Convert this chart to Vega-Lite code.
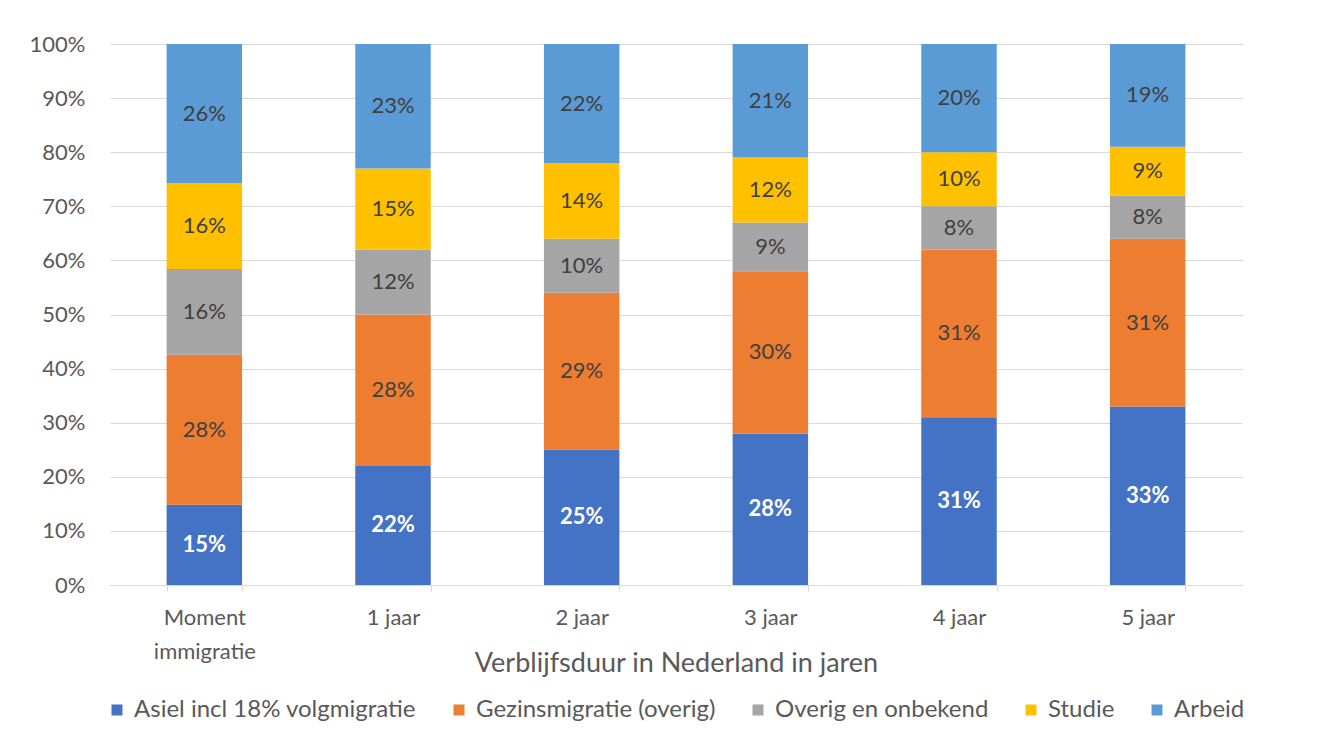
{
  "$schema": "https://vega.github.io/schema/vega-lite/v6.json",
  "width": 1132,
  "height": 541,
  "autosize": {"type": "none"},
  "padding": {"left": 110, "top": 44, "right": 97, "bottom": 163},
  "background": "white",
  "config": {"view": {"stroke": null}, "font": "Lato"},
  "data": {
    "values": [
      {"t": "Moment immigratie", "c": "Asiel incl 18% volgmigratie", "v": 15},
      {"t": "Moment immigratie", "c": "Gezinsmigratie (overig)", "v": 28},
      {"t": "Moment immigratie", "c": "Overig en onbekend", "v": 16},
      {"t": "Moment immigratie", "c": "Studie", "v": 16},
      {"t": "Moment immigratie", "c": "Arbeid", "v": 26},
      {"t": "1 jaar", "c": "Asiel incl 18% volgmigratie", "v": 22},
      {"t": "1 jaar", "c": "Gezinsmigratie (overig)", "v": 28},
      {"t": "1 jaar", "c": "Overig en onbekend", "v": 12},
      {"t": "1 jaar", "c": "Studie", "v": 15},
      {"t": "1 jaar", "c": "Arbeid", "v": 23},
      {"t": "2 jaar", "c": "Asiel incl 18% volgmigratie", "v": 25},
      {"t": "2 jaar", "c": "Gezinsmigratie (overig)", "v": 29},
      {"t": "2 jaar", "c": "Overig en onbekend", "v": 10},
      {"t": "2 jaar", "c": "Studie", "v": 14},
      {"t": "2 jaar", "c": "Arbeid", "v": 22},
      {"t": "3 jaar", "c": "Asiel incl 18% volgmigratie", "v": 28},
      {"t": "3 jaar", "c": "Gezinsmigratie (overig)", "v": 30},
      {"t": "3 jaar", "c": "Overig en onbekend", "v": 9},
      {"t": "3 jaar", "c": "Studie", "v": 12},
      {"t": "3 jaar", "c": "Arbeid", "v": 21},
      {"t": "4 jaar", "c": "Asiel incl 18% volgmigratie", "v": 31},
      {"t": "4 jaar", "c": "Gezinsmigratie (overig)", "v": 31},
      {"t": "4 jaar", "c": "Overig en onbekend", "v": 8},
      {"t": "4 jaar", "c": "Studie", "v": 10},
      {"t": "4 jaar", "c": "Arbeid", "v": 20},
      {"t": "5 jaar", "c": "Asiel incl 18% volgmigratie", "v": 33},
      {"t": "5 jaar", "c": "Gezinsmigratie (overig)", "v": 31},
      {"t": "5 jaar", "c": "Overig en onbekend", "v": 8},
      {"t": "5 jaar", "c": "Studie", "v": 9},
      {"t": "5 jaar", "c": "Arbeid", "v": 19}
    ]
  },
  "transform": [
    {"calculate": "indexof(['Asiel incl 18% volgmigratie','Gezinsmigratie (overig)','Overig en onbekend','Studie','Arbeid'], datum.c)", "as": "o"},
    {"stack": "v", "groupby": ["t"], "sort": [{"field": "o", "order": "ascending"}], "offset": "normalize", "as": ["y0", "y1"]},
    {"calculate": "(datum.y0 + datum.y1) / 2", "as": "ym"},
    {"calculate": "datum.v + '%'", "as": "lab"}
  ],
  "encoding": {
    "x": {
      "field": "t",
      "type": "nominal",
      "sort": ["Moment immigratie", "1 jaar", "2 jaar", "3 jaar", "4 jaar", "5 jaar"],
      "scale": {"paddingInner": 0.6, "paddingOuter": 0.3},
      "axis": {
        "title": "Verblijfsduur in Nederland in jaren",
        "titleFontSize": 27,
        "titleFontWeight": "normal",
        "titleColor": "#595959",
        "titleBaseline": "middle",
        "titleY": 78,
        "labelAngle": 0,
        "labelFontSize": 22,
        "labelColor": "#595959",
        "labelPadding": 16,
        "labelLineHeight": 34,
        "labelExpr": "datum.value == 'Moment immigratie' ? ['Moment', 'immigratie'] : datum.value",
        "domainColor": "#D9D9D9",
        "tickColor": "#D9D9D9",
        "tickBand": "extent",
        "tickSize": 6,
        "grid": false
      }
    }
  },
  "layer": [
    {
      "mark": {"type": "bar"},
      "encoding": {
        "y": {
          "field": "y0",
          "type": "quantitative",
          "scale": {"domain": [0, 1]},
          "axis": {
            "title": null,
            "format": "%",
            "values": [0, 0.1, 0.2, 0.3, 0.4, 0.5, 0.6, 0.7, 0.8, 0.9, 1],
            "domain": false,
            "ticks": false,
            "gridColor": "#D9D9D9",
            "labelFontSize": 22,
            "labelColor": "#595959",
            "labelPadding": 25
          }
        },
        "y2": {"field": "y1"},
        "color": {
          "field": "c",
          "type": "nominal",
          "scale": {
            "domain": ["Asiel incl 18% volgmigratie", "Gezinsmigratie (overig)", "Overig en onbekend", "Studie", "Arbeid"],
            "range": ["#4472C4", "#ED7D31", "#A5A5A5", "#FFC000", "#5B9BD5"]
          },
          "legend": {
            "title": null,
            "orient": "none",
            "legendX": -5,
            "legendY": 654,
            "direction": "horizontal",
            "symbolType": "square",
            "symbolSize": 121,
            "symbolStrokeWidth": 0,
            "labelFontSize": 24,
            "labelColor": "#595959",
            "labelLimit": 0,
            "labelOffset": 5,
            "columnPadding": 30
          }
        }
      }
    },
    {
      "transform": [{"filter": "datum.o != 0"}],
      "mark": {"type": "text", "fontSize": 22, "color": "#404040"},
      "encoding": {
        "y": {"field": "ym", "type": "quantitative"},
        "text": {"field": "lab"}
      }
    },
    {
      "transform": [{"filter": "datum.o == 0"}],
      "mark": {"type": "text", "fontSize": 22, "fontWeight": "bold", "color": "white"},
      "encoding": {
        "y": {"field": "ym", "type": "quantitative"},
        "text": {"field": "lab"}
      }
    }
  ]
}
